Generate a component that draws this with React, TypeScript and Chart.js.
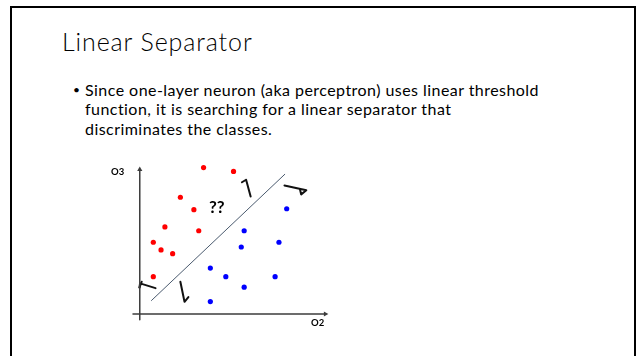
import React, { useEffect, useRef } from "react";
import { Chart, registerables } from "chart.js";

Chart.register(...registerables);

// Feature-space samples (o2 on the x axis, o3 on the y axis)
const redClass = [
  { x: 6.6, y: 15.3 },
  { x: 9.7, y: 14.9 },
  { x: 4.2, y: 12.2 },
  { x: 5.6, y: 10.9 },
  { x: 2.6, y: 9.1 },
  { x: 6.1, y: 8.7 },
  { x: 1.4, y: 7.5 },
  { x: 2.2, y: 6.7 },
  { x: 3.4, y: 6.3 },
  { x: 1.4, y: 3.9 },
];

const blueClass = [
  { x: 15.2, y: 11.0 },
  { x: 10.8, y: 8.7 },
  { x: 14.4, y: 7.5 },
  { x: 10.5, y: 7.0 },
  { x: 7.3, y: 4.8 },
  { x: 8.9, y: 3.9 },
  { x: 14.0, y: 3.9 },
  { x: 10.8, y: 2.8 },
  { x: 7.3, y: 1.3 },
];

// Decision boundary
const separatorLine = [
  { x: 1.2, y: 1.4 },
  { x: 15.0, y: 14.6 },
];

// Axes (with arrow tips)
const yAxisLine = [
  { x: 0, y: -0.6 },
  { x: 0, y: 15.0 },
];
const xAxisLine = [
  { x: -0.7, y: 0 },
  { x: 19.1, y: 0 },
];
const yAxisTip = [{ x: 0, y: 15.1 }];
const xAxisTip = [{ x: 19.2, y: 0 }];

// Hand-drawn arrows hinting that the line can move/rotate
const strokeUpper = [
  { x: 11.47, y: 12.27 },
  { x: 11.0, y: 14.03 },
  { x: 10.57, y: 13.77 },
];
const strokeRight = [
  { x: 14.97, y: 13.43 },
  { x: 17.23, y: 12.93 },
  { x: 16.7, y: 12.5 },
  { x: 16.57, y: 13.03 },
];
const strokeLeft = [
  { x: 1.63, y: 2.7 },
  { x: 0.03, y: 3.2 },
  { x: -0.03, y: 2.77 },
];
const strokeLeftTick = [
  { x: -0.03, y: 2.77 },
  { x: 0.2, y: 3.37 },
];
const strokeBottom = [
  { x: 4.2, y: 3.37 },
  { x: 4.5, y: 1.9 },
  { x: 4.63, y: 1.27 },
  { x: 5.03, y: 1.77 },
];

const xRange = { min: -3.7, max: 20.3 };
const yRange = { min: -2.3, max: 16.2 };

const titleText = "Linear Separator";
const bulletLines = [
  "Since one-layer neuron (aka perceptron) uses linear threshold",
  "function, it is searching for a linear separator that",
  "discriminates the classes.",
];

function line(data: { x: number; y: number }[], color: string, width: number) {
  return {
    type: "scatter" as const,
    data,
    showLine: true,
    borderColor: color,
    borderWidth: width,
    borderCapStyle: "round" as const,
    borderJoinStyle: "round" as const,
    pointRadius: 0,
    fill: false,
  };
}

function ScatterPlot() {
  const ref = useRef<HTMLCanvasElement | null>(null);

  useEffect(() => {
    if (!ref.current) return;
    const axisColor = "#3c3c3c";
    const ink = "#111111";
    const chart = new Chart(ref.current, {
      type: "scatter",
      data: {
        datasets: [
          line(yAxisLine, axisColor, 1.5),
          line(xAxisLine, axisColor, 1.5),
          {
            data: yAxisTip,
            pointStyle: "triangle",
            rotation: 0,
            pointRadius: 3,
            backgroundColor: axisColor,
            borderWidth: 0,
          },
          {
            data: xAxisTip,
            pointStyle: "triangle",
            rotation: 90,
            pointRadius: 3,
            backgroundColor: axisColor,
            borderWidth: 0,
          },
          line(separatorLine, "#4a5a6e", 1),
          line(strokeUpper, ink, 2),
          line(strokeRight, ink, 2),
          line(strokeLeft, ink, 2),
          line(strokeLeftTick, ink, 2),
          line(strokeBottom, ink, 2),
          {
            data: redClass,
            pointRadius: 2.6,
            backgroundColor: "#ff0000",
            borderWidth: 0,
          },
          {
            data: blueClass,
            pointRadius: 2.6,
            backgroundColor: "#0000ff",
            borderWidth: 0,
          },
        ] as any,
      },
      options: {
        animation: false,
        responsive: false,
        maintainAspectRatio: false,
        devicePixelRatio: 1,
        layout: { padding: 0 },
        events: [],
        scales: {
          x: { type: "linear", display: false, ...xRange },
          y: { type: "linear", display: false, ...yRange },
        },
        plugins: {
          legend: { display: false },
          tooltip: { enabled: false },
        },
      },
    });
    return () => chart.destroy();
  }, []);

  return (
    <canvas
      ref={ref}
      width={240}
      height={185}
      style={{ position: "absolute", left: 100, top: 155, width: 240, height: 185 }}
    />
  );
}

const font = "Lato, 'Open Sans', 'Noto Sans', sans-serif";

export default function App() {
  return (
    <div
      style={{
        position: "absolute",
        left: 0,
        top: 0,
        width: 639,
        height: 356,
        overflow: "hidden",
        background: "#ffffff",
        fontFamily: font,
        color: "#000000",
      }}
    >
      <div
        style={{
          position: "absolute",
          left: 10,
          top: 6,
          width: 622,
          height: 400,
          borderLeft: "2.5px solid #000",
          borderTop: "2.5px solid #000",
          borderRight: "2.5px solid #000",
        }}
      />
      <div
        style={{
          position: "absolute",
          left: 62,
          top: 29,
          fontSize: 25,
          fontWeight: 300,
          letterSpacing: 0.9,
          lineHeight: "25px",
          whiteSpace: "nowrap",
        }}
      >
        {titleText}
      </div>
      <div
        style={{
          position: "absolute",
          left: 73,
          top: 82,
          fontSize: 12,
          lineHeight: "15px",
        }}
      >
        •
      </div>
      {bulletLines.map((t, i) => (
        <div
          key={i}
          style={{
            position: "absolute",
            left: 85,
            top: 81.5 + i * 19.5,
            fontSize: 16,
            letterSpacing: 0.45,
            lineHeight: "16px",
            whiteSpace: "nowrap",
          }}
        >
          {t}
        </div>
      ))}
      <ScatterPlot />
      <div
        style={{
          position: "absolute",
          left: 111,
          top: 167,
          fontSize: 9.5,
          fontWeight: 700,
          lineHeight: "9px",
        }}
      >
        O3
      </div>
      <div
        style={{
          position: "absolute",
          left: 311,
          top: 318,
          fontSize: 9.5,
          fontWeight: 700,
          lineHeight: "9px",
        }}
      >
        O2
      </div>
      <div
        style={{
          position: "absolute",
          left: 209,
          top: 198,
          fontSize: 17,
          fontWeight: 700,
          lineHeight: "17px",
        }}
      >
        ??
      </div>
    </div>
  );
}
